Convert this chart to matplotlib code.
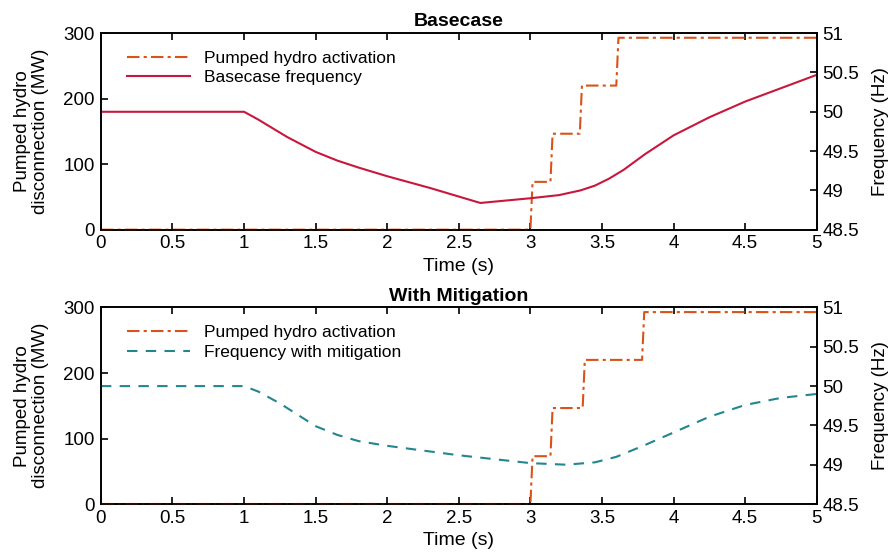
import matplotlib
matplotlib.use("Agg")
import matplotlib.pyplot as plt

plt.rcParams["font.family"] = ["Liberation Sans", "DejaVu Sans"]

# ---- data ----
# pumped hydro activation (MW), step function
pump_t_base = [0, 3.0, 3.015, 3.14, 3.155, 3.345, 3.36, 3.6, 3.615, 5]
pump_mw_base = [0, 0, 73, 73, 146.5, 146.5, 220, 220, 293, 293]

pump_t_mit = [0, 3.0, 3.015, 3.14, 3.155, 3.365, 3.38, 3.78, 3.795, 5]
pump_mw_mit = [0, 0, 73, 73, 146.5, 146.5, 220, 220, 293, 293]

# frequency (Hz)
freq_t_base = [0, 1, 1.1, 1.3, 1.5, 1.65, 1.8, 2.0, 2.3, 2.65, 3.0, 3.2,
               3.35, 3.45, 3.55, 3.65, 3.8, 4.0, 4.25, 4.5, 4.75, 5]
freq_base = [50, 50, 49.9, 49.68, 49.49, 49.38, 49.29, 49.18, 49.03, 48.84,
             48.9, 48.94, 49.0, 49.06, 49.15, 49.26, 49.46, 49.7, 49.93,
             50.13, 50.3, 50.47]

freq_t_mit = [0, 1, 1.1, 1.25, 1.5, 1.65, 1.8, 2.0, 2.25, 2.5, 2.75, 3.0,
              3.25, 3.45, 3.6, 3.8, 4.0, 4.25, 4.5, 4.75, 5]
freq_mit = [50, 50, 49.93, 49.78, 49.49, 49.38, 49.3, 49.24, 49.18, 49.12,
            49.07, 49.02, 49.0, 49.03, 49.1, 49.25, 49.41, 49.61, 49.76,
            49.85, 49.9]

ORANGE = "#D95319"
RED = "#C8173C"
TEAL = "#23868F"


def panel(ax, title, pt, pmw, ft, fv, fcolor, fstyle, flabel):
    ax2 = ax.twinx()
    l1, = ax.plot(pt, pmw, color=ORANGE, linestyle="-.", linewidth=1.5,
                  clip_on=False, zorder=3)
    l1.set_dashes((6, 2, 1.5, 2))
    l2, = ax2.plot(ft, fv, color=fcolor, linestyle=fstyle, linewidth=1.5)
    if fstyle == "--":
        l2.set_dashes((5, 4))

    ax.set_xlim(0, 5)
    ax.set_ylim(0, 300)
    ax2.set_ylim(48.5, 51)
    ax.set_xticks([0, 0.5, 1, 1.5, 2, 2.5, 3, 3.5, 4, 4.5, 5])
    ax.set_xticklabels(["0", "0.5", "1", "1.5", "2", "2.5", "3", "3.5",
                        "4", "4.5", "5"])
    ax.set_yticks([0, 100, 200, 300])
    ax2.set_yticks([48.5, 49, 49.5, 50, 50.5, 51])
    ax2.set_yticklabels(["48.5", "49", "49.5", "50", "50.5", "51"])

    ax.tick_params(axis="x", direction="in", top=True, labelsize=13.5,
                   length=5, width=1.2, pad=4)
    ax.tick_params(axis="y", direction="in", labelsize=13.5, length=5,
                   width=1.2, pad=4.5)
    ax2.tick_params(axis="y", direction="in", labelsize=13.5, length=5,
                    width=1.2, pad=4)
    for a in (ax, ax2):
        for s in a.spines.values():
            s.set_linewidth(1.2)
    ax.set_xlabel("Time (s)", fontsize=14, labelpad=4)
    ax.set_ylabel("Pumped hydro\ndisconnection (MW)", fontsize=13.5,
                  labelpad=10, linespacing=1.1)
    ax2.set_ylabel("Frequency (Hz)", fontsize=13.5, labelpad=9)
    ax.set_title(title, fontsize=14, fontweight="bold", pad=5)
    ax.legend([l1, l2], ["Pumped hydro activation", flabel],
              loc="upper left", frameon=False, fontsize=12.5,
              handlelength=3.6, handletextpad=0.8,
              bbox_to_anchor=(0.015, 0.99), labelspacing=0.25)


fig, (ax_top, ax_bot) = plt.subplots(2, 1, figsize=(8.93, 5.53), dpi=100)
fig.subplots_adjust(left=0.113, right=0.9146, top=0.940, bottom=0.0886,
                    hspace=0.396)

panel(ax_top, "Basecase", pump_t_base, pump_mw_base, freq_t_base, freq_base,
      RED, "-", "Basecase frequency")
panel(ax_bot, "With Mitigation", pump_t_mit, pump_mw_mit, freq_t_mit,
      freq_mit, TEAL, "--", "Frequency with mitigation")

fig.savefig("out.png", dpi=100)
